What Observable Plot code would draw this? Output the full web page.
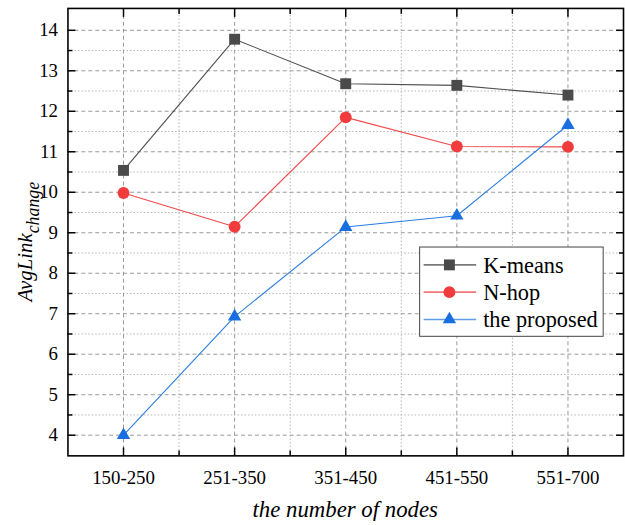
<!DOCTYPE html>
<html><head><meta charset="utf-8">
<script src="https://cdn.jsdelivr.net/npm/d3@7"></script>
<script src="https://cdn.jsdelivr.net/npm/@observablehq/plot@0.6"></script>
<style>html,body{margin:0;padding:0;overflow:hidden;background:#fff}</style>
</head><body><div id="chart"></div>
<script>
const categories = ["150-250", "251-350", "351-450", "451-550", "551-700"];
const kmeans = [10.54, 13.78, 12.68, 12.64, 12.40];
const nhop = [9.98, 9.15, 11.85, 11.13, 11.12];
const proposed = [4.00, 6.93, 9.14, 9.42, 11.66];
const seriesNames = ["K-means", "N-hop", "the proposed"];
const yTicks = [4, 5, 6, 7, 8, 9, 10, 11, 12, 13, 14];
const yMinor = [4.5, 5.5, 6.5, 7.5, 8.5, 9.5, 10.5, 11.5, 12.5, 13.5];
const xMinor = [0.5, 1.5, 2.5, 3.5];
const xLabel = "the number of nodes";
const yLabelMain = "AvgLink";
const yLabelSub = "change";

const xIdx = categories.map((_, i) => i);
const styles = [
  {line: "#4f4f4f", fill: "#4a4a4a", symbol: "square", r: 6.2},
  {line: "#f04a4a", fill: "#f03c3c", symbol: "circle", r: 6},
  {line: "#2a7de1", fill: "#1a6fe0", symbol: "triangle", r: 5}
];
const seriesValues = [kmeans, nhop, proposed];
const rows = seriesValues.map((vals, s) => vals.map((v, i) => ({s, i, v})));

const blank = () => "";
const marks = [
  Plot.gridY(yMinor, {stroke: "#b4b4b4", strokeOpacity: 1, strokeDasharray: "1.5,2"}),
  Plot.gridX(xMinor, {stroke: "#b4b4b4", strokeOpacity: 1, strokeDasharray: "1.5,2"}),
  Plot.gridY(yTicks, {stroke: "#999", strokeOpacity: 1, strokeDasharray: "4,3"}),
  Plot.gridX(xIdx, {stroke: "#999", strokeOpacity: 1, strokeDasharray: "4,3"})
];
rows.forEach((data, s) => {
  marks.push(Plot.line(data, {x: "i", y: "v", stroke: styles[s].line, strokeWidth: 1.1}));
});
rows.forEach((data, s) => {
  marks.push(Plot.dot(data, {x: "i", y: "v", symbol: () => styles[s].symbol, fill: styles[s].fill, stroke: "none", r: styles[s].r}));
});
marks.push(
  Plot.axisY(yTicks, {anchor: "left", tickSize: -8, tickPadding: 18, label: null, strokeWidth: 1.5}),
  Plot.axisY(yMinor, {anchor: "left", tickSize: -5, tickFormat: blank, label: null, strokeWidth: 1.5}),
  Plot.axisY(yTicks, {anchor: "right", tickSize: -8, tickFormat: blank, label: null, strokeWidth: 1.5}),
  Plot.axisY(yMinor, {anchor: "right", tickSize: -5, tickFormat: blank, label: null, strokeWidth: 1.5}),
  Plot.axisX(xIdx, {anchor: "bottom", tickSize: -8, tickPadding: 23, tickFormat: i => categories[i], label: null, strokeWidth: 1.5}),
  Plot.axisX(xMinor, {anchor: "bottom", tickSize: -5, tickFormat: blank, label: null, strokeWidth: 1.5}),
  Plot.axisX(xIdx, {anchor: "top", tickSize: -8, tickFormat: blank, label: null, strokeWidth: 1.5}),
  Plot.axisX(xMinor, {anchor: "top", tickSize: -5, tickFormat: blank, label: null, strokeWidth: 1.5}),
  Plot.frame({stroke: "black", strokeWidth: 1.6})
);

const plot = Plot.plot({
  width: 630, height: 525,
  marginTop: 8, marginLeft: 68, marginRight: 2, marginBottom: 66,
  style: {fontFamily: "'Liberation Serif', 'Times New Roman', serif", fontSize: "19px", background: "white", color: "black"},
  x: {domain: [-0.5, 4.5]},
  y: {domain: [3.49, 14.54]},
  marks
});
document.getElementById("chart").appendChild(plot);

const svg = d3.select(plot);
const font = "'Liberation Serif', 'Times New Roman', serif";
// x label
svg.append("text").attr("x", 348).attr("y", 521).attr("text-anchor", "middle")
  .attr("font-family", font).attr("font-style", "italic").attr("font-size", 23).attr("fill", "black")
  .text(xLabel);
// y label
const yl = svg.append("text").attr("transform", "translate(32,304) rotate(-90)").attr("text-anchor", "start")
  .attr("font-family", font).attr("font-style", "italic").attr("fill", "black");
yl.append("tspan").attr("font-size", 21).text(yLabelMain);
yl.append("tspan").attr("font-size", 18).attr("dy", 7).text(yLabelSub);

// legend
const lg = svg.append("g").attr("transform", "translate(423,249)");
lg.append("rect").attr("width", 185).attr("height", 90).attr("fill", "white").attr("stroke", "#444").attr("stroke-width", 1);
const symMap = {square: d3.symbolSquare, circle: d3.symbolCircle, triangle: d3.symbolTriangle};
seriesNames.forEach((name, s) => {
  const cy = 18 + s * 27.5;
  lg.append("line").attr("x1", 4).attr("x2", 57).attr("y1", cy).attr("y2", cy)
    .attr("stroke", styles[s].line).attr("stroke-width", 1.6).attr("opacity", 0.75);
  lg.append("path").attr("transform", `translate(30,${cy})`)
    .attr("d", d3.symbol().type(symMap[styles[s].symbol]).size(Math.PI * styles[s].r * styles[s].r)())
    .attr("fill", styles[s].fill);
  lg.append("text").attr("x", 64).attr("y", cy + 8).attr("text-anchor", "start")
    .attr("font-family", font).attr("font-size", 22.5)
    .attr("fill", "black").text(name);
});
</script>
</body></html>
